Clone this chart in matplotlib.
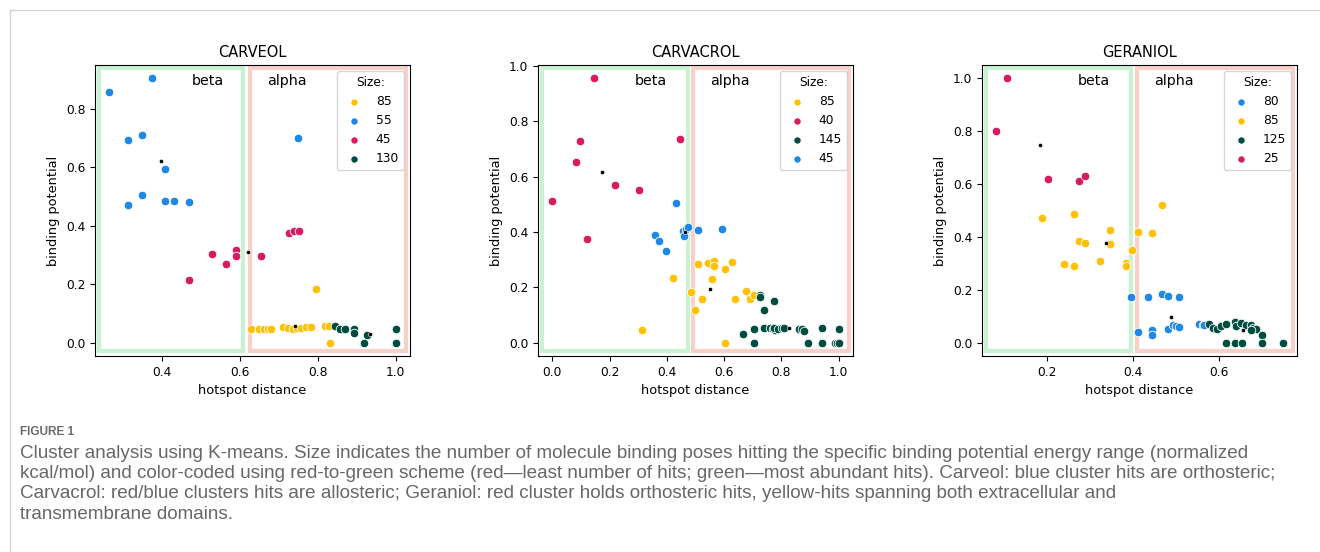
import matplotlib
matplotlib.use("Agg")
import matplotlib.pyplot as plt
from matplotlib.patches import Rectangle
from matplotlib.lines import Line2D
from matplotlib.ticker import MultipleLocator
from matplotlib import font_manager

# ---------------- colours ----------------
YELLOW = "#FFC107"
BLUE = "#1E88E5"
RED = "#D81B60"
GREEN = "#004D40"

# ---------------- CARVEOL ----------------
carveol_yellow_x = [0.796, 0.832, 0.628, 0.650, 0.661, 0.672, 0.680, 0.712, 0.723, 0.736, 0.746, 0.757, 0.770, 0.783, 0.819, 0.830]
carveol_yellow_y = [0.185, 0.000, 0.046, 0.046, 0.048, 0.048, 0.048, 0.054, 0.050, 0.047, 0.049, 0.051, 0.053, 0.054, 0.057, 0.058]
carveol_blue_x = [0.265, 0.374, 0.313, 0.350, 0.408, 0.313, 0.350, 0.408, 0.432, 0.469, 0.750]
carveol_blue_y = [0.857, 0.905, 0.692, 0.711, 0.593, 0.470, 0.506, 0.486, 0.486, 0.482, 0.702]
carveol_red_x = [0.529, 0.565, 0.590, 0.590, 0.654, 0.469, 0.725, 0.738, 0.751]
carveol_red_y = [0.304, 0.270, 0.316, 0.296, 0.296, 0.215, 0.376, 0.381, 0.383]
carveol_green_x = [0.845, 0.856, 0.869, 0.893, 0.893, 0.918, 0.927, 1.000, 1.000]
carveol_green_y = [0.058, 0.046, 0.046, 0.048, 0.034, 0.000, 0.025, 0.048, 0.000]
carveol_cent_x = [0.398, 0.621, 0.741, 0.935]
carveol_cent_y = [0.621, 0.311, 0.057, 0.031]
carveol_sizes = ["85", "55", "45", "130"]

# ---------------- CARVACROL ----------------
carvacrol_yellow_x = [0.507, 0.543, 0.566, 0.566, 0.604, 0.628, 0.557, 0.420, 0.484, 0.521, 0.498, 0.314, 0.604, 0.639, 0.675, 0.689, 0.703]
carvacrol_yellow_y = [0.286, 0.289, 0.294, 0.277, 0.267, 0.291, 0.230, 0.233, 0.183, 0.159, 0.118, 0.047, 0.000, 0.159, 0.188, 0.159, 0.171]
carvacrol_red_x = [0.147, 0.097, 0.083, 0.218, 0.301, 0.000, 0.120, 0.445]
carvacrol_red_y = [0.955, 0.730, 0.652, 0.570, 0.551, 0.510, 0.373, 0.736]
carvacrol_green_x = [0.726, 0.726, 0.774, 0.739, 0.667, 0.703, 0.703, 0.739, 0.761, 0.769, 0.779, 0.774, 0.788,
                     0.802, 0.808, 0.860, 0.872, 0.879, 0.893, 0.942, 0.942, 1.000, 0.986, 0.994, 1.000]
carvacrol_green_y = [0.173, 0.165, 0.152, 0.118, 0.032, 0.048, 0.000, 0.054, 0.054, 0.051, 0.047, 0.054, 0.048,
                     0.053, 0.054, 0.048, 0.048, 0.043, 0.000, 0.054, 0.000, 0.048, 0.000, 0.000, 0.000]
carvacrol_blue_x = [0.432, 0.360, 0.373, 0.397, 0.458, 0.460, 0.466, 0.473, 0.508, 0.594]
carvacrol_blue_y = [0.503, 0.390, 0.369, 0.332, 0.405, 0.387, 0.411, 0.419, 0.408, 0.411]
carvacrol_cent_x = [0.172, 0.464, 0.550, 0.825]
carvacrol_cent_y = [0.618, 0.399, 0.195, 0.053]
carvacrol_sizes = ["85", "40", "145", "45"]

# ---------------- GERANIOL ----------------
geraniol_blue_x = [0.397, 0.436, 0.469, 0.483, 0.508, 0.412, 0.446, 0.446, 0.483, 0.493, 0.501, 0.508, 0.555, 0.563, 0.567]
geraniol_blue_y = [0.174, 0.174, 0.183, 0.175, 0.174, 0.039, 0.050, 0.031, 0.053, 0.066, 0.063, 0.059, 0.072, 0.066, 0.069]
geraniol_yellow_x = [0.469, 0.190, 0.264, 0.348, 0.412, 0.446, 0.275, 0.289, 0.348, 0.398, 0.240, 0.264, 0.324, 0.384, 0.384]
geraniol_yellow_y = [0.519, 0.472, 0.486, 0.427, 0.417, 0.416, 0.383, 0.377, 0.373, 0.351, 0.299, 0.292, 0.309, 0.301, 0.289]
geraniol_green_x = [0.577, 0.586, 0.596, 0.606, 0.617, 0.639, 0.640, 0.652, 0.664, 0.675, 0.681, 0.687, 0.701,
                    0.617, 0.639, 0.654, 0.701, 0.749, 0.676]
geraniol_green_y = [0.072, 0.057, 0.053, 0.062, 0.072, 0.078, 0.062, 0.076, 0.066, 0.066, 0.055, 0.053, 0.030,
                    0.000, 0.000, 0.000, 0.000, 0.000, 0.047]
geraniol_red_x = [0.107, 0.083, 0.203, 0.275, 0.289]
geraniol_red_y = [1.000, 0.800, 0.620, 0.611, 0.632]
geraniol_cent_x = [0.184, 0.339, 0.490, 0.656]
geraniol_cent_y = [0.748, 0.377, 0.096, 0.047]
geraniol_sizes = ["80", "85", "125", "25"]

# region dividers (beta box right edge, alpha box left edge) and label positions
titles = ["CARVEOL", "CARVACROL", "GERANIOL"]
beta_edge = [0.609, 0.473, 0.397]
alpha_edge = [0.625, 0.493, 0.410]
beta_label_x = [0.517, 0.344, 0.310]
alpha_label_x = [0.721, 0.620, 0.495]

caption_head = "FIGURE 1"
caption_lines = [
    "Cluster analysis using K-means. Size indicates the number of molecule binding poses hitting the specific binding potential energy range (normalized",
    "kcal/mol) and color-coded using red-to-green scheme (red\u2014least number of hits; green\u2014most abundant hits). Carveol: blue cluster hits are orthosteric;",
    "Carvacrol: red/blue clusters hits are allosteric; Geraniol: red cluster holds orthosteric hits, yellow-hits spanning both extracellular and",
    "transmembrane domains.",
]

panels = [
    dict(series=[(carveol_yellow_x, carveol_yellow_y, YELLOW), (carveol_blue_x, carveol_blue_y, BLUE),
                 (carveol_red_x, carveol_red_y, RED), (carveol_green_x, carveol_green_y, GREEN)],
         labels=carveol_sizes, cx=carveol_cent_x, cy=carveol_cent_y),
    dict(series=[(carvacrol_yellow_x, carvacrol_yellow_y, YELLOW), (carvacrol_red_x, carvacrol_red_y, RED),
                 (carvacrol_green_x, carvacrol_green_y, GREEN), (carvacrol_blue_x, carvacrol_blue_y, BLUE)],
         labels=carvacrol_sizes, cx=carvacrol_cent_x, cy=carvacrol_cent_y),
    dict(series=[(geraniol_blue_x, geraniol_blue_y, BLUE), (geraniol_yellow_x, geraniol_yellow_y, YELLOW),
                 (geraniol_green_x, geraniol_green_y, GREEN), (geraniol_red_x, geraniol_red_y, RED)],
         labels=geraniol_sizes, cx=geraniol_cent_x, cy=geraniol_cent_y),
]

W, H = 1320, 552
fig = plt.figure(figsize=(W / 100, H / 100), dpi=100)
fig.patch.set_facecolor("white")

ax_lefts = [95, 538, 982]
ax_w, ax_h, ax_bottom = 315, 291, 196

GREEN_BOX = "#c8f2d2"
RED_BOX = "#f7d0c8"

for i, p in enumerate(panels):
    ax = fig.add_axes([ax_lefts[i] / W, ax_bottom / H, ax_w / W, ax_h / H])
    for (xs, ys, col), lab in zip(p["series"], p["labels"]):
        ax.scatter(xs, ys, s=38, color=col, edgecolors="white", linewidths=0.6, label=lab, zorder=3)
    ax.scatter(p["cx"], p["cy"], s=9, color="black", edgecolors="white", linewidths=0.4, zorder=4)
    xl = ax.get_xlim()
    yl = ax.get_ylim()
    ax.set_xlim(xl)
    ax.set_ylim(yl)
    dx = xl[1] - xl[0]
    dy = yl[1] - yl[0]
    x0 = xl[0] + 0.012 * dx
    x1 = xl[1] - 0.012 * dx
    y0 = yl[0] + 0.017 * dy
    y1 = yl[1] - 0.012 * dy
    ax.add_patch(Rectangle((x0, y0), beta_edge[i] - x0, y1 - y0, fill=False,
                           edgecolor=GREEN_BOX, linewidth=3, zorder=1))
    ax.add_patch(Rectangle((alpha_edge[i], y0), x1 - alpha_edge[i], y1 - y0, fill=False,
                           edgecolor=RED_BOX, linewidth=3, zorder=1))
    ty = yl[0] + 0.944 * dy
    ax.text(beta_label_x[i], ty, "beta", ha="center", va="center", fontsize=10.3, zorder=5)
    ax.text(alpha_label_x[i], ty, "alpha", ha="center", va="center", fontsize=10.3, zorder=5)
    ax.xaxis.set_major_locator(MultipleLocator(0.2))
    ax.yaxis.set_major_locator(MultipleLocator(0.2))
    ax.tick_params(labelsize=8.8)
    ax.set_xlabel("hotspot distance", fontsize=9.3)
    ax.set_ylabel("binding potential", fontsize=9.3)
    ax.set_title(titles[i], fontsize=10.5)
    leg = ax.legend(title="Size:", loc="upper right", fontsize=8.8, title_fontsize=8.8,
                    scatterpoints=1, markerscale=0.85)
    leg.set_zorder(6)

# page frame lines
fig.add_artist(Line2D([10 / W, 1.0], [1 - 10 / H, 1 - 10 / H], color="#d4d4d4", linewidth=1))
fig.add_artist(Line2D([10 / W, 10 / W], [0.0, 1 - 10 / H], color="#d4d4d4", linewidth=1))

# caption
available = {f.name for f in font_manager.fontManager.ttflist}
cap_family = "Liberation Sans Narrow" if "Liberation Sans Narrow" in available else "Liberation Sans"
cap_color = "#676767"

fig.text(20 / W, 1 - 432 / H, caption_head, fontsize=8.5, color="#6a6a6a", family=cap_family,
         fontweight="bold", va="center", ha="left")

renderer = fig.canvas.get_renderer()
line_y = [453, 473.5, 494, 514.5]
texts = []
for ly, line in zip(line_y, caption_lines):
    t = fig.text(20 / W, 1 - ly / H, line, fontsize=12, color=cap_color, family=cap_family,
                 va="center", ha="left")
    texts.append(t)
w0 = texts[0].get_window_extent(renderer).width
fs = 12 * 1237 / w0
for t in texts:
    t.set_fontsize(fs)

fig.savefig("out.png", dpi=100)
